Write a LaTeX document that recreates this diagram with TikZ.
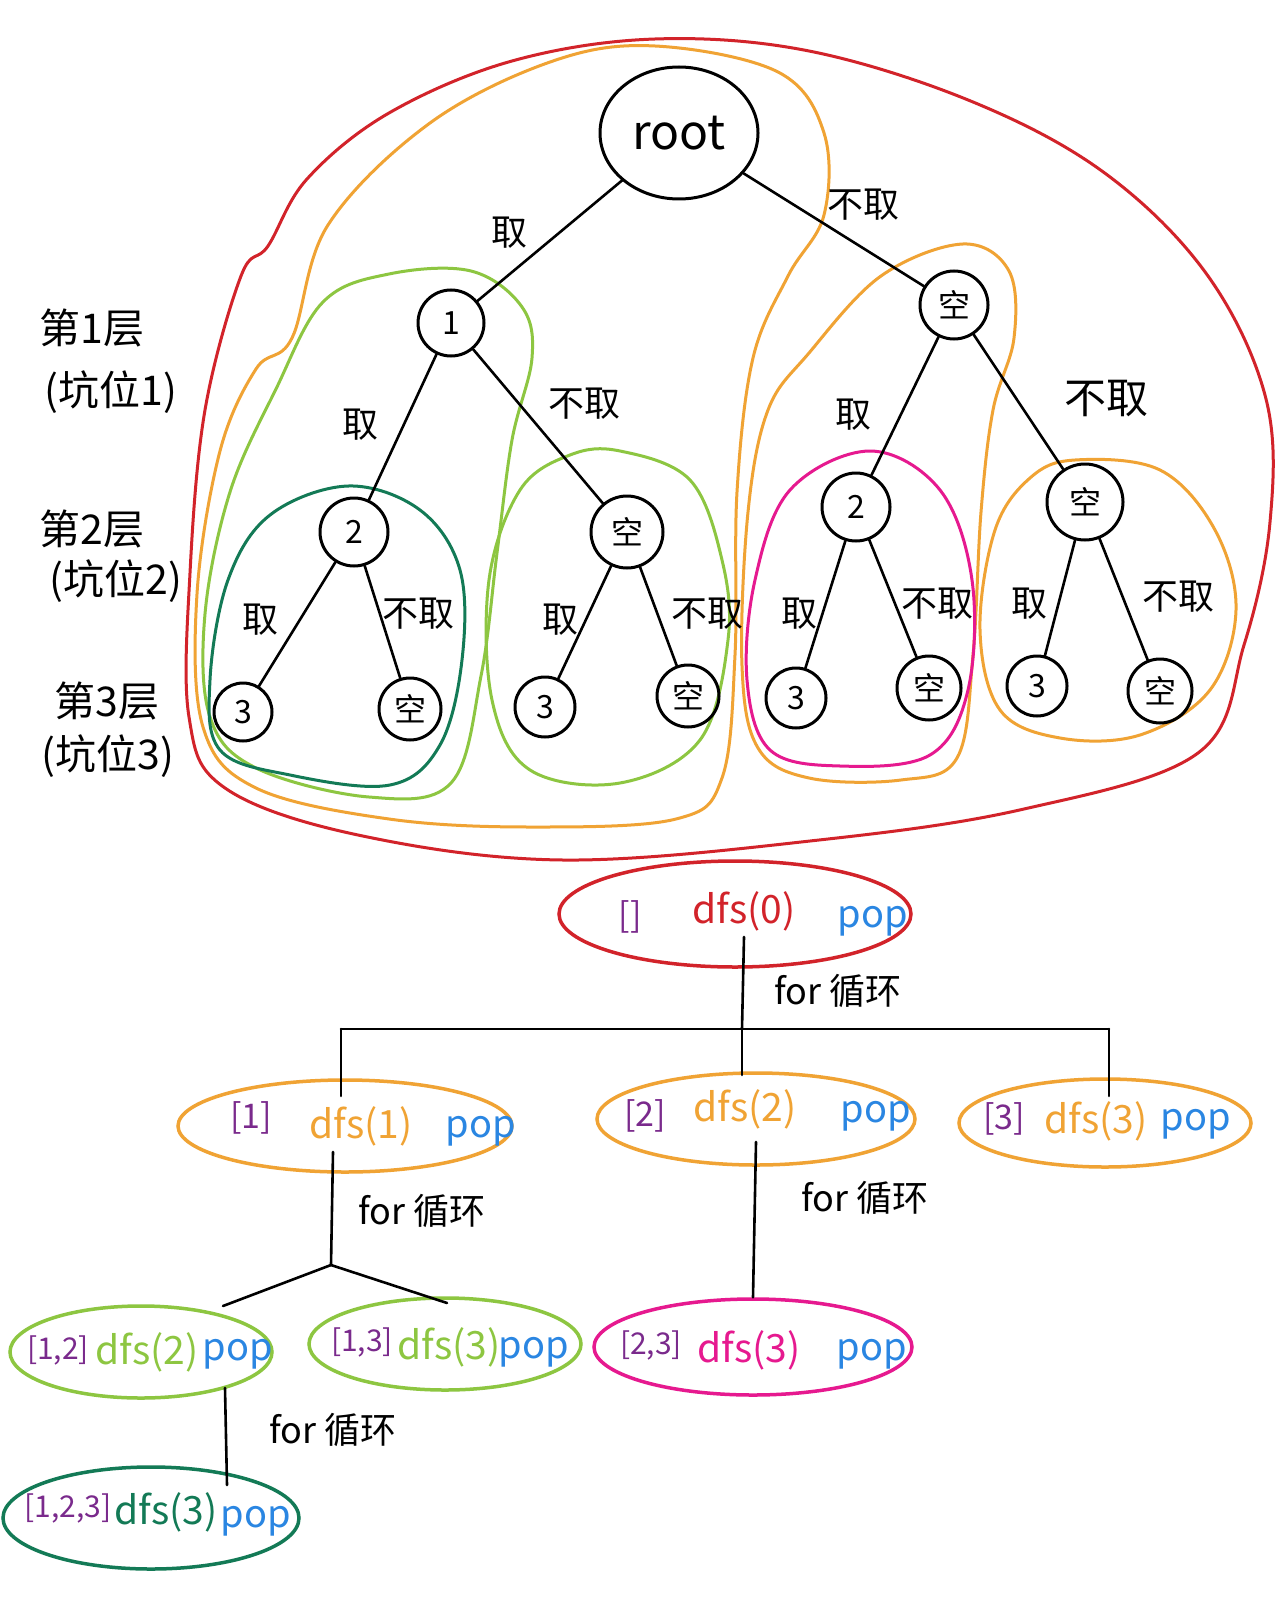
\documentclass[tikz,border=0pt]{standalone}
\usepackage{fontspec}
\setmainfont{Noto Sans CJK SC}
\usetikzlibrary{shapes.geometric}
\definecolor{cRed}{HTML}{D2232A}
\definecolor{cOrange}{HTML}{F0A334}
\definecolor{cLime}{HTML}{8DC641}
\definecolor{cDeep}{HTML}{137A56}
\definecolor{cPink}{HTML}{E6198F}
\definecolor{cPurple}{HTML}{7A2A8C}
\definecolor{cBlue}{HTML}{2A86E2}
\begin{document}
\begin{tikzpicture}[x=1pt,y=-1pt,
  every node/.style={inner sep=0pt},
  tnode/.style={draw=black,line width=3pt,circle,minimum size=#1,font=\fontsize{32}{32}\selectfont},
  link/.style={draw=black,line width=2.6pt,line cap=round},
  elab/.style={font=\fontsize{36}{36}\selectfont},
  side/.style={font=\fontsize{41}{41}\selectfont,anchor=center},
  hull/.style={draw=#1,line width=3pt},
  call/.style={draw=#1,line width=3.5pt,ellipse},
  brk/.style={font=\fontsize{34}{34}\selectfont,text=cPurple},
  brks/.style={font=\fontsize{30}{30}\selectfont,text=cPurple},
  fn/.style={font=\fontsize{39}{39}\selectfont,text=#1},
  popt/.style={font=\fontsize{38}{38}\selectfont,text=cBlue},
  loop/.style={font=\fontsize{36}{36}\selectfont}
]
\fill[white] (0,0) rectangle (1280,1605);

% ---------- grouping outlines of the decision tree ----------
\draw[hull=cRed] plot[smooth cycle,tension=0.6] coordinates {
  (268,246) (307,179) (389,113) (512,61) (655,39) (809,51) (973,102)
  (1106,174) (1208,276) (1266,399) (1270,522) (1244,645) (1198,753)
  (1024,809) (819,840) (563,860) (358,835) (225,788) (189,717)
  (190,573) (205,410) (241,276)};
\draw[hull=cOrange] plot[smooth cycle,tension=0.6] coordinates {
  (292,338) (328,225) (430,123) (553,61) (655,46) (778,72) (824,133)
  (824,215) (788,276) (753,358) (737,492) (735,655) (722,778) (676,819)
  (532,827) (389,819) (256,788) (203,727) (197,594) (220,451) (256,369)};
\draw[hull=cOrange] plot[smooth cycle,tension=0.6] coordinates {
  (809,353) (881,276) (963,244) (1009,271) (1014,338) (993,410)
  (981,512) (973,655) (957,758) (901,780) (809,778) (758,748)
  (742,666) (748,512) (768,410)};
\draw[hull=cOrange] plot[smooth cycle,tension=0.6] coordinates {
  (1075,460) (1160,470) (1215,530) (1236,610) (1210,690) (1140,735)
  (1060,738) (1000,710) (980,630) (995,530) (1030,478)};
\draw[hull=cLime] plot[smooth cycle,tension=0.6] coordinates {
  (205,614) (230,492) (276,389) (323,302) (389,274) (471,271) (522,307)
  (532,358) (512,440) (497,553) (481,676) (451,783) (369,797) (256,768)
  (210,717)};
\draw[hull=cLime] plot[smooth cycle,tension=0.6] coordinates {
  (620,451) (690,480) (722,560) (728,640) (700,740) (620,783) (530,770)
  (492,700) (489,580) (520,490) (570,455)};
\draw[hull=cDeep] plot[smooth cycle,tension=0.6] coordinates {
  (348,486) (420,510) (460,570) (462,660) (440,745) (390,785) (290,775)
  (220,750) (210,680) (228,580) (270,515)};
\draw[hull=cPink] plot[smooth cycle,tension=0.6] coordinates {
  (870,451) (940,490) (972,580) (968,690) (930,755) (840,766) (770,750)
  (747,680) (755,580) (790,490)};

% ---------- decision tree ----------
\node[draw=black,line width=3pt,ellipse,minimum width=158,minimum height=132,
      font=\fontsize{48}{48}\selectfont] (root) at (679,133) {root};
\node[tnode=66] (n1)  at (451,323) {1};
\node[tnode=68] (e1)  at (954,305) {空};
\node[tnode=68] (n2a) at (354,532) {2};
\node[tnode=72] (e2a) at (627,532) {空};
\node[tnode=68] (n2b) at (856,507) {2};
\node[tnode=76] (e2b) at (1085,502) {空};
\node[tnode=58] (t1) at (243,712) {3};
\node[tnode=62] (t2) at (410,709) {空};
\node[tnode=60] (t3) at (545,707) {3};
\node[tnode=62] (t4) at (688,696) {空};
\node[tnode=60] (t5) at (796,698) {3};
\node[tnode=64] (t6) at (929,688) {空};
\node[tnode=60] (t7) at (1037,686) {3};
\node[tnode=64] (t8) at (1160,691) {空};

\draw[link] (root) -- (n1);
\draw[link] (root) -- (e1);
\draw[link] (n1) -- (n2a);
\draw[link] (n1) -- (e2a);
\draw[link] (e1) -- (n2b);
\draw[link] (e1) -- (e2b);
\draw[link] (n2a) -- (t1);
\draw[link] (n2a) -- (t2);
\draw[link] (e2a) -- (t3);
\draw[link] (e2a) -- (t4);
\draw[link] (n2b) -- (t5);
\draw[link] (n2b) -- (t6);
\draw[link] (e2b) -- (t7);
\draw[link] (e2b) -- (t8);

\node[elab] (l1)  at (509,233) {取};
\node[elab] (l2)  at (863,205) {不取};
\node[elab] (l3)  at (360,425) {取};
\node[elab] (l4)  at (584,404) {不取};
\node[elab] (l5)  at (853,415) {取};
\node[elab,font=\fontsize{42}{42}\selectfont] (l6) at (1106,399) {不取};
\node[elab] (l7)  at (260,620) {取};
\node[elab] (l8)  at (418,614) {不取};
\node[elab] (l9)  at (560,620) {取};
\node[elab] (l10) at (707,614) {不取};
\node[elab] (l11) at (799,614) {取};
\node[elab] (l12) at (937,604) {不取};
\node[elab] (l13) at (1029,604) {取};
\node[elab] (l14) at (1178,597) {不取};

\node[side] (s1a) at (92,328) {第1层};
\node[side] (s1b) at (111,392) {(坑位1)};
\node[side] (s2a) at (92,529) {第2层};
\node[side] (s2b) at (116,581) {(坑位2)};
\node[side] (s3a) at (107,701) {第3层};
\node[side] (s3b) at (108,756) {(坑位3)};

% ---------- recursive calls ----------
\node[call=cRed,minimum width=352,minimum height=106] (r0) at (735,914) {};
\node[brk]        (r0a) at (630,917) {[]};
\node[fn=cRed]    (r0b) at (744,911) {dfs(0)};
\node[popt]       (r0c) at (873,921) {pop};

\node[call=cOrange,minimum width=334,minimum height=92] (o1) at (345,1126) {};
\node[brk]        (o1a) at (251,1118) {[1]};
\node[fn=cOrange] (o1b) at (361,1126) {dfs(1)};
\node[popt]       (o1c) at (481,1131) {pop};

\node[call=cOrange,minimum width=318,minimum height=92] (o2) at (756,1119) {};
\node[brk]        (o2a) at (645,1116) {[2]};
\node[fn=cOrange] (o2b) at (745,1109) {dfs(2)};
\node[popt]       (o2c) at (876,1116) {pop};

\node[call=cOrange,minimum width=292,minimum height=88] (o3) at (1105,1123) {};
\node[brk]        (o3a) at (1004,1119) {[3]};
\node[fn=cOrange] (o3b) at (1096,1121) {dfs(3)};
\node[popt]       (o3c) at (1196,1124) {pop};

\node[call=cLime,minimum width=262,minimum height=92] (g1) at (141,1352) {};
\node[brks]       (g1a) at (58,1350) {[1,2]};
\node[fn=cLime]   (g1b) at (147,1352) {dfs(2)};
\node[popt]       (g1c) at (238,1354) {pop};

\node[call=cLime,minimum width=272,minimum height=92] (g2) at (445,1344) {};
\node[brks]       (g2a) at (362,1342) {[1,3]};
\node[fn=cLime]   (g2b) at (449,1347) {dfs(3)};
\node[popt]       (g2c) at (534,1352) {pop};

\node[call=cPink,minimum width=318,minimum height=96] (p1) at (753,1347) {};
\node[brks]       (p1a) at (651,1345) {[2,3]};
\node[fn=cPink]   (p1b) at (749,1350) {dfs(3)};
\node[popt]       (p1c) at (872,1354) {pop};

\node[call=cDeep,minimum width=296,minimum height=102] (d1) at (151,1518) {};
\node[brks]       (d1a) at (68,1508) {[1,2,3]};
\node[fn=cDeep]   (d1b) at (166,1512) {dfs(3)};
\node[popt]       (d1c) at (256,1521) {pop};

% ---------- call connectors ----------
\coordinate (j0)  at (742,1029);
\coordinate (b0L) at (341,1029);
\coordinate (b0R) at (1109,1029);
\draw[link] ([shift={(9,23)}]r0.center) -- (j0);
\draw[link] (b0L) -- (j0) -- (b0R);
\draw[link] (b0L) -- ([shift={(-4,-30)}]o1.center);
\draw[link] (j0) -- ([shift={(-14,-44)}]o2.center);
\draw[link] (b0R) -- ([shift={(4,-27)}]o3.center);
\node[loop] (f0) at (838,991) {for 循环};

\coordinate (j1) at (331,1265);
\draw[link] ([shift={(-12,26)}]o1.center) -- (j1);
\draw[link] (j1) -- ([shift={(82,-46)}]g1.center);
\draw[link] (j1) -- ([shift={(2,-41)}]g2.center);
\node[loop] (f1) at (422,1211) {for 循环};

\draw[link] ([shift={(0,23)}]o2.center) -- (p1.north);
\node[loop] (f2) at (865,1198) {for 循环};

\draw[link] ([shift={(84,36)}]g1.center) -- ([shift={(76,-33)}]d1.center);
\node[loop] (f3) at (333,1430) {for 循环};
\end{tikzpicture}
\end{document}
